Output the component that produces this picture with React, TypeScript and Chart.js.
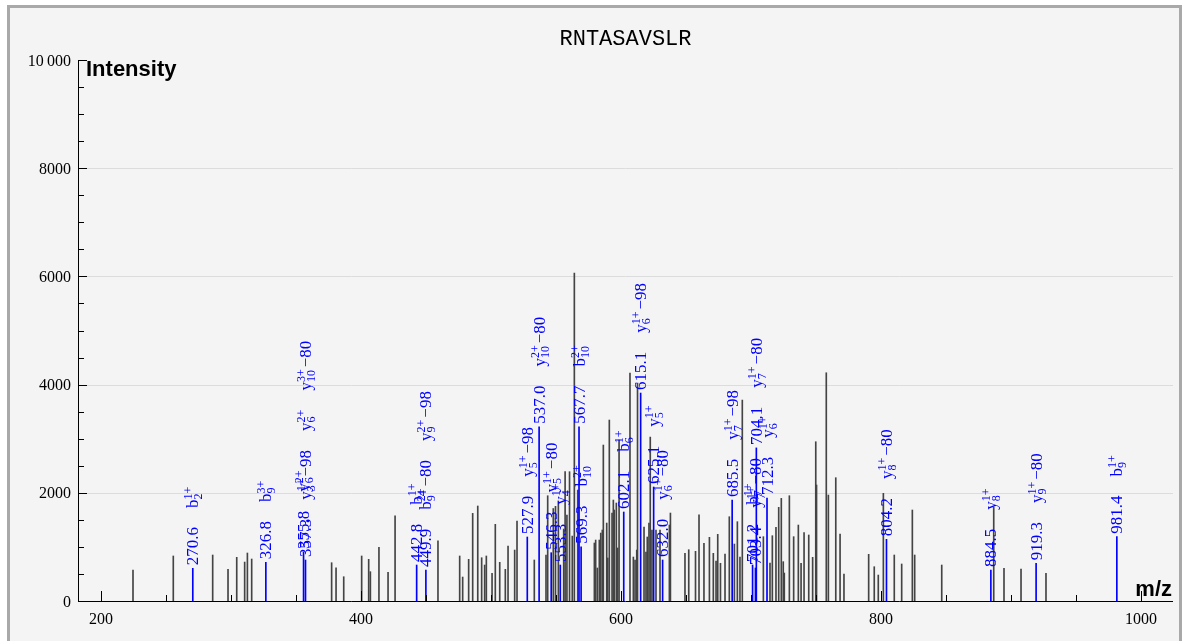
import React, { useEffect, useRef } from "react";
import { Chart, registerables } from "chart.js";

Chart.register(...registerables);

const TITLE = "RNTASAVSLR";
const X_TITLE = "m/z";
const Y_TITLE = "Intensity";
const xTickValues = [200, 400, 600, 800, 1000];
const xTickLabels = ["200", "400", "600", "800", "1000"];
const yTickValues = [0, 2000, 4000, 6000, 8000, 10000];
const yTickLabels = ["0", "2000", "4000", "6000", "8000", "10\u2009000"];

// unannotated peaks
const grayMz = [
  224.6, 255.6, 285.9, 297.7, 304.4, 310.5, 312.6, 315.9, 377.4, 380.8,
  386.7, 400.5, 405.9, 407.2, 413.8, 420.8, 426.2, 459.2, 475.9, 478.2,
  482.8, 485.9, 489.8, 492.8, 495.1, 496.4, 500.8, 503.3, 506.7, 511.0,
  513.1, 518.2, 520.0, 533.3, 542.3, 543.6, 547.9, 549.6, 551.8, 555.9,
  557.0, 558.4, 560.4, 562.5, 564.1, 566.7, 579.5, 580.5, 581.8, 583.3,
  584.4, 585.6, 586.4, 589.0, 589.8, 591.0, 593.1, 594.1, 594.8, 596.4,
  597.4, 598.5, 606.9, 609.5, 610.8, 612.1, 612.7, 617.7, 619.2, 620.2,
  621.5, 622.5, 623.8, 626.9, 630.0, 637.2, 638.0, 649.2, 652.1, 657.3,
  660.0, 663.8, 668.0, 671.0, 673.1, 674.4, 676.5, 680.0, 683.3, 687.2,
  689.5, 691.5, 693.3, 709.5, 714.6, 716.4, 719.2, 721.3, 723.3, 724.8,
  725.6, 729.5, 732.8, 736.4, 738.5, 740.8, 744.4, 747.4, 749.8, 750.4,
  757.9, 759.5, 765.2, 768.5, 771.5, 790.5, 794.8, 797.9, 801.8, 810.2,
  815.9, 824.1, 825.9, 846.7, 886.7, 894.6, 907.7, 926.9,
];
const grayIntensity = [
  573, 832, 850, 585, 807, 720, 887, 776, 708, 615,
  449, 832, 770, 542, 992, 530, 1576, 1114, 832, 443,
  770, 1620, 1756, 800, 665, 832, 512, 1417, 715, 585,
  1016, 942, 1478, 758, 850, 1946, 1710, 1750, 1850, 1330,
  2390, 1590, 2390, 1200, 6060, 2051, 1072, 1127, 610, 1127,
  1256, 1312, 2883, 1441, 795, 3345, 1626, 1866, 1682, 1811,
  980, 2975, 4214, 813, 758, 942, 4028, 1367, 905, 1183,
  1441, 3030, 1312, 1312, 1312, 1404, 1626, 881, 948, 918,
  1595, 1066, 1177, 881, 740, 1232, 697, 868, 1558, 1053,
  1466, 814, 3714, 1189, 700, 1207, 1361, 1731, 1897, 727,
  517, 1946, 1189, 1404, 697, 1263, 1220, 807, 2944, 2144,
  4219, 1959, 2279, 1238, 499, 863, 634, 480, 1990, 850,
  684, 1682, 850, 665, 1731, 604, 591, 512,
];

// annotated peaks
const ionMz = [
  270.6, 326.8, 355.8, 357.3, 442.8, 449.9, 527.9, 537.0, 546.3, 553.3,
  567.7, 569.3, 602.1, 615.1, 625.1, 632.0, 685.5, 701.2, 703.4, 704.1,
  712.3, 804.2, 884.5, 919.3, 981.4,
];
const ionIntensity = [
  604, 715, 905, 758, 665, 573, 1183, 3221, 893, 665,
  3221, 1003, 1645, 3844, 2107, 758, 1866, 665, 610, 2830,
  1903, 1140, 573, 697, 1189,
];
const ionMzLabels = [
  "270.6", "326.8", "355.8", "357.3", "442.8", "449.9", "527.9", "537.0", "546.3", "553.3",
  "567.7", "569.3", "602.1", "615.1", "625.1", "632.0", "685.5", "701.2", "703.4", "704.1",
  "712.3", "804.2", "884.5", "919.3", "981.4",
];
// ion type | index | charge | neutral loss
const ionNames = [
  ["b|2|1+"],
  ["b|9|3+"],
  ["y|6|2+"],
  ["y|3|1+|\u221298", "y|6|2+", "y|10|3+|\u221280"],
  ["b|4|1+"],
  ["b|9|2+|\u221280", "y|9|2+|\u221298"],
  ["y|5|1+|\u221298"],
  ["y|10|2+|\u221280"],
  ["y|5|1+|\u221280"],
  ["y|4|1+"],
  ["b|10|2+"],
  ["b|10|2+"],
  ["b|6|1+"],
  ["y|6|1+|\u221298"],
  ["y|5|1+"],
  ["y|6|1+|\u221280"],
  ["y|7|1+|\u221298"],
  ["b|7|1+"],
  ["y|7|1+|\u221280"],
  ["y|7|1+|\u221280"],
  ["y|6|1+"],
  ["y|8|1+|\u221280"],
  ["y|8|1+"],
  ["y|9|1+|\u221280"],
  ["b|9|1+"],
];

const W = 1188;
const H = 641;
const SERIF = "'Liberation Serif', 'Times New Roman', serif";
const SANS = "'Liberation Sans', Arial, sans-serif";
const MONO = "'Liberation Mono', 'Courier New', monospace";
const BLUE = "#0000ff";

const decorPlugin = {
  id: "decor",
  beforeDraw(chart: any) {
    const ctx = chart.ctx as CanvasRenderingContext2D;
    const { left, right } = chart.chartArea;
    const ys = chart.scales.y;
    ctx.save();
    ctx.fillStyle = "#ffffff";
    ctx.fillRect(0, 0, W, H);
    ctx.fillStyle = "#f4f4f4";
    ctx.fillRect(8, 6, 1173, 700);
    ctx.strokeStyle = "#a9a9a9";
    ctx.lineWidth = 3;
    ctx.strokeRect(8.5, 6.5, 1172, 700);
    ctx.strokeStyle = "#dcdcdc";
    ctx.lineWidth = 1;
    for (const v of [2000, 4000, 6000, 8000]) {
      const y = Math.round(ys.getPixelForValue(v)) + 0.5;
      ctx.beginPath();
      ctx.moveTo(left, y);
      ctx.lineTo(right, y);
      ctx.stroke();
    }
    ctx.restore();
  },
  afterDatasetsDraw(chart: any) {
    const ctx = chart.ctx as CanvasRenderingContext2D;
    const { left, right, top, bottom } = chart.chartArea;
    const xs = chart.scales.x;
    const ys = chart.scales.y;
    ctx.save();
    // axes
    ctx.strokeStyle = "#000000";
    ctx.lineWidth = 1;
    ctx.beginPath();
    ctx.moveTo(left + 0.5, top);
    ctx.lineTo(left + 0.5, bottom + 1);
    ctx.moveTo(left, bottom + 0.5);
    ctx.lineTo(right, bottom + 0.5);
    ctx.stroke();
    // y ticks
    ctx.beginPath();
    for (let v = 0; v <= 10000; v += 500) {
      const y = Math.round(ys.getPixelForValue(v)) + 0.5;
      const len = v % 2000 === 0 ? 9 : 6;
      ctx.moveTo(left, y);
      ctx.lineTo(left + len, y);
    }
    // x ticks
    for (let v = 200; v <= 1000; v += 50) {
      const x = Math.round(xs.getPixelForValue(v)) + 0.5;
      const len = v % 200 === 0 ? 10 : 6;
      ctx.moveTo(x, bottom);
      ctx.lineTo(x, bottom - len);
    }
    ctx.stroke();
    // tick labels
    ctx.fillStyle = "#000000";
    ctx.font = `16px ${SERIF}`;
    ctx.textAlign = "right";
    ctx.textBaseline = "alphabetic";
    yTickValues.forEach((v, i) => {
      const y = ys.getPixelForValue(v);
      ctx.fillText(yTickLabels[i], left - 7, y + 5.5);
    });
    ctx.textAlign = "center";
    xTickValues.forEach((v, i) => {
      const x = xs.getPixelForValue(v);
      ctx.fillText(xTickLabels[i], x, bottom + 22.5);
    });
    // axis titles
    ctx.font = `bold 22px ${SANS}`;
    ctx.textAlign = "left";
    ctx.fillText(Y_TITLE, left + 8, top + 16);
    ctx.textAlign = "right";
    ctx.fillText(X_TITLE, right - 1, bottom - 5);
    // chart title
    ctx.font = `22px ${MONO}`;
    ctx.textAlign = "center";
    ctx.fillText(TITLE, (left + right) / 2, 45);

    // annotations
    const meta = chart.getDatasetMeta(1);
    const BIG = `17px ${SERIF}`;
    const SMALL = `12px ${SERIF}`;
    ctx.fillStyle = BLUE;
    ctx.textAlign = "left";
    ctx.textBaseline = "alphabetic";
    meta.data.forEach((el: any, i: number) => {
      ctx.save();
      ctx.translate(el.x + 5.5, el.y - 3);
      ctx.rotate(-Math.PI / 2);
      ctx.font = BIG;
      ctx.fillText(ionMzLabels[i], 0, 0);
      let u = ctx.measureText(ionMzLabels[i]).width + 19;
      for (const ion of ionNames[i]) {
        const [letter, idx, charge, loss] = ion.split("|");
        ctx.font = BIG;
        ctx.fillText(letter, u, 0);
        u += ctx.measureText(letter).width;
        ctx.font = SMALL;
        ctx.fillText(charge, u, -6);
        ctx.fillText(idx, u, 4);
        u += Math.max(ctx.measureText(charge).width, ctx.measureText(idx).width);
        if (loss) {
          ctx.font = BIG;
          u += 2;
          ctx.fillText(loss, u, 0);
          u += ctx.measureText(loss).width;
        }
        u += 19;
      }
      ctx.restore();
    });
    ctx.restore();
  },
};

export default function App() {
  const canvasRef = useRef<HTMLCanvasElement | null>(null);
  useEffect(() => {
    const canvas = canvasRef.current;
    if (!canvas) return;
    const chart = new Chart(canvas, {
      type: "bar",
      data: {
        datasets: [
          {
            data: grayMz.map((m, i) => ({ x: m, y: grayIntensity[i] })),
            backgroundColor: "#444444",
            barThickness: 1,
            grouped: false,
            order: 2,
          } as any,
          {
            data: ionMz.map((m, i) => ({ x: m, y: ionIntensity[i] })),
            backgroundColor: BLUE,
            barThickness: 1,
            grouped: false,
            order: 1,
          } as any,
        ],
      },
      options: {
        animation: false,
        responsive: false,
        devicePixelRatio: 1,
        events: [],
        layout: { padding: { left: 78, top: 60, right: 15, bottom: 40 } },
        plugins: {
          legend: { display: false },
          tooltip: { enabled: false },
          title: { display: false },
        },
        scales: {
          x: { type: "linear", min: 182.3, max: 1024.6, display: false, offset: false },
          y: { type: "linear", min: 0, max: 10000, display: false },
        },
      } as any,
      plugins: [decorPlugin],
    });
    return () => chart.destroy();
  }, []);
  return (
    <div style={{ position: "absolute", left: 0, top: 0, width: W, height: H, overflow: "hidden" }}>
      <canvas ref={canvasRef} width={W} height={H} style={{ display: "block", width: W, height: H }} />
    </div>
  );
}
